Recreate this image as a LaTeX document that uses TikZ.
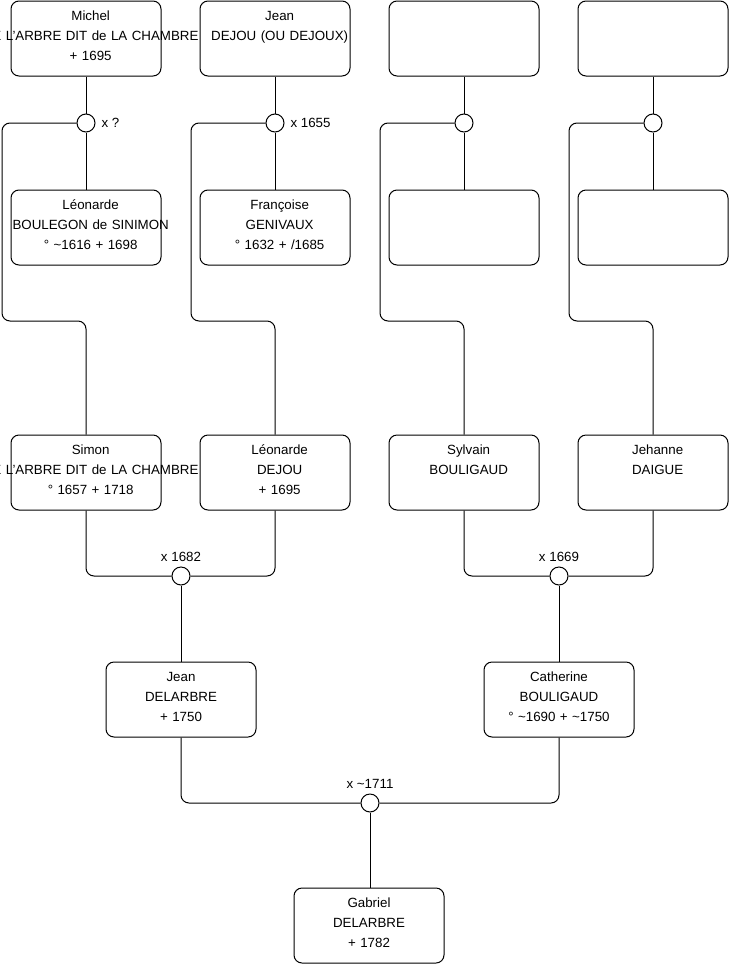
\documentclass[tikz,border=0pt]{standalone}
\usepackage{fontspec}
\setmainfont{Liberation Sans}
\usetikzlibrary{positioning}
\newcommand\boxtail{\endgraf\kern4.5pt}

\begin{document}
\begin{tikzpicture}[x=0.75pt,y=-0.75pt,font=\fontsize{10pt}{15pt}\selectfont,
  person/.style={rectangle,draw,rounded corners=6pt,minimum width=112.5pt,minimum height=56.25pt,text width=100pt,align=center,line width=0.75pt,
    execute at end node=\boxtail},
  nudge/.style={execute at begin node={\advance\leftskip by 7pt}},
  union/.style={circle,draw,fill=white,minimum size=13.5pt,inner sep=0pt,line width=0.75pt},
  link/.style={line width=0.75pt,rounded corners=6pt}]
  \useasboundingbox (0,0) rectangle (740,975);
  % grandparents
  \node[person,nudge](michel) at (86,38.5){Michel\\\makebox[0pt]{DE L'ARBRE DIT de LA CHAMBRE}\\+ 1695};
  \node[person,nudge](jeand) at (275,38.5){Jean\\\makebox[0pt]{DEJOU (OU DEJOUX)}\\~};
  \node[person](anon1) at (464,38.5){};
  \node[person](anon2) at (653,38.5){};
  \node[union,label={[label distance=1pt]right:x ?}](u1) at (86,123){};
  \node[union,label={[label distance=1pt]right:x 1655}](u2) at (275,123){};
  \node[union](u3) at (464,123){};
  \node[union](u4) at (653,123){};
  \node[person,nudge](leoboul) at (86,227.5){Léonarde\\\makebox[0pt]{BOULEGON de SINIMON}\\° \textasciitilde1616 + 1698};
  \node[person,nudge](francoise) at (275,227.5){Françoise\\GENIVAUX\\° 1632 + /1685};
  \node[person](anon3) at (464,227.5){};
  \node[person](anon4) at (653,227.5){};
  % parents
  \node[person,nudge](simon) at (86,472.5){Simon\\\makebox[0pt]{DE L'ARBRE DIT de LA CHAMBRE}\\° 1657 + 1718};
  \node[person,nudge](leodej) at (275,472.5){Léonarde\\DEJOU\\+ 1695};
  \node[person,nudge](sylvain) at (464,472.5){Sylvain\\BOULIGAUD\\~};
  \node[person,nudge](jehanne) at (653,472.5){Jehanne\\DAIGUE\\~};
  \node[union,label={above:x 1682}](u5) at (181,576){};
  \node[union,label={above:x 1669}](u6) at (559,576){};
  \node[person](jeandel) at (181,699.5){Jean\\DELARBRE\\+ 1750};
  \node[person](catherine) at (559,699.5){Catherine\\BOULIGAUD\\° \textasciitilde1690 + \textasciitilde1750};
  \node[union,label={above:x \textasciitilde1711}](u7) at (370,803){};
  \node[person](gabriel) at (369,925.5){Gabriel\\DELARBRE\\+ 1782};
  % bends
  \coordinate(b1) at (2,321);
  \coordinate(b2) at (191,321);
  \coordinate(b3) at (380,321);
  \coordinate(b4) at (569,321);
  \draw[link](michel)--(u1)--(leoboul);
  \draw[link](jeand)--(u2)--(francoise);
  \draw[link](anon1)--(u3)--(anon3);
  \draw[link](anon2)--(u4)--(anon4);
  \draw[link](u1.west)-|(b1)-|(simon.north);
  \draw[link](u2.west)-|(b2)-|(leodej.north);
  \draw[link](u3.west)-|(b3)-|(sylvain.north);
  \draw[link](u4.west)-|(b4)-|(jehanne.north);
  \draw[link](simon.south)|-(u5.west);
  \draw[link](leodej.south)|-(u5.east);
  \draw[link](sylvain.south)|-(u6.west);
  \draw[link](jehanne.south)|-(u6.east);
  \draw[link](u5)--(jeandel);
  \draw[link](u6)--(catherine);
  \draw[link](jeandel.south)|-(u7.west);
  \draw[link](catherine.south)|-(u7.east);
  \draw[link](u7)--(u7|-gabriel.north);
\end{tikzpicture}
\end{document}
